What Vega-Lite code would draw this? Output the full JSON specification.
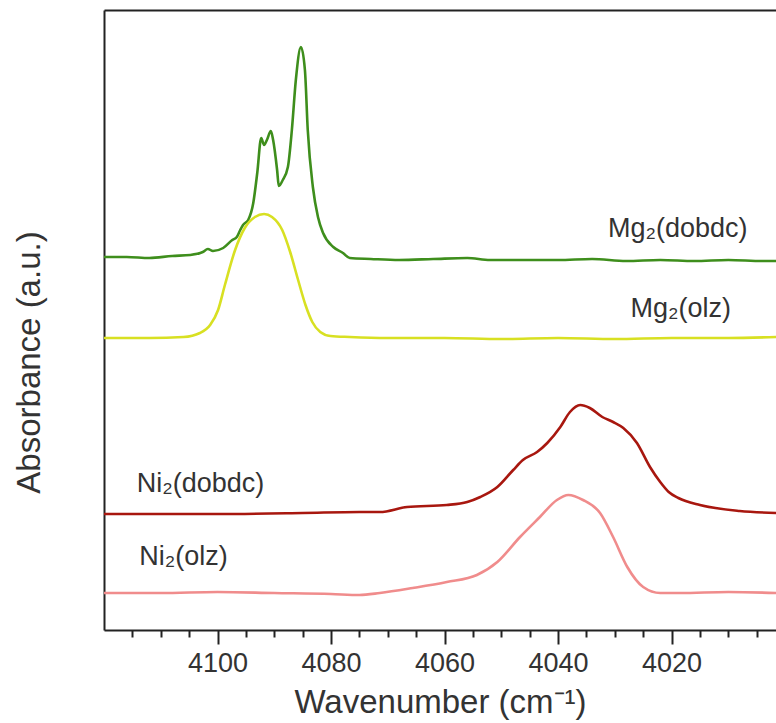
{
  "$schema": "https://vega.github.io/schema/vega-lite/v6.json",
  "width": 672,
  "height": 620,
  "autosize": "none",
  "padding": {"left": 104, "top": 10, "right": 0, "bottom": 93},
  "background": "white",
  "config": {"view": {"stroke": null}, "font": "Liberation Sans"},
  "datasets": {
    "spectra": [
      {"w": 4120, "a": 373, "s": "Mg2(dobdc)"}, {"w": 4116, "a": 373, "s": "Mg2(dobdc)"}, {"w": 4112, "a": 372, "s": "Mg2(dobdc)"}, {"w": 4108, "a": 374, "s": "Mg2(dobdc)"}, {"w": 4104.8, "a": 375, "s": "Mg2(dobdc)"}, {"w": 4102.6, "a": 378, "s": "Mg2(dobdc)"}, {"w": 4101.7, "a": 381, "s": "Mg2(dobdc)"}, {"w": 4100.8, "a": 379, "s": "Mg2(dobdc)"}, {"w": 4099, "a": 382, "s": "Mg2(dobdc)"}, {"w": 4097.4, "a": 390, "s": "Mg2(dobdc)"}, {"w": 4096.6, "a": 393, "s": "Mg2(dobdc)"}, {"w": 4096, "a": 400, "s": "Mg2(dobdc)"}, {"w": 4095.5, "a": 405, "s": "Mg2(dobdc)"}, {"w": 4094.6, "a": 410, "s": "Mg2(dobdc)"}, {"w": 4093.7, "a": 427, "s": "Mg2(dobdc)"}, {"w": 4093, "a": 457, "s": "Mg2(dobdc)"}, {"w": 4092.3, "a": 492, "s": "Mg2(dobdc)"}, {"w": 4091.8, "a": 485, "s": "Mg2(dobdc)"}, {"w": 4091.3, "a": 490, "s": "Mg2(dobdc)"}, {"w": 4090.6, "a": 499, "s": "Mg2(dobdc)"}, {"w": 4090.2, "a": 490, "s": "Mg2(dobdc)"}, {"w": 4089.5, "a": 460, "s": "Mg2(dobdc)"}, {"w": 4089.2, "a": 444, "s": "Mg2(dobdc)"}, {"w": 4088.5, "a": 450, "s": "Mg2(dobdc)"}, {"w": 4087.6, "a": 463, "s": "Mg2(dobdc)"}, {"w": 4086.9, "a": 500, "s": "Mg2(dobdc)"}, {"w": 4086.2, "a": 550, "s": "Mg2(dobdc)"}, {"w": 4085.3, "a": 583, "s": "Mg2(dobdc)"}, {"w": 4084.6, "a": 560, "s": "Mg2(dobdc)"}, {"w": 4084.1, "a": 500, "s": "Mg2(dobdc)"}, {"w": 4083.2, "a": 443, "s": "Mg2(dobdc)"}, {"w": 4082.3, "a": 413, "s": "Mg2(dobdc)"}, {"w": 4081.4, "a": 397, "s": "Mg2(dobdc)"}, {"w": 4079.6, "a": 383, "s": "Mg2(dobdc)"}, {"w": 4077.9, "a": 377, "s": "Mg2(dobdc)"}, {"w": 4076.7, "a": 372, "s": "Mg2(dobdc)"}, {"w": 4073, "a": 371, "s": "Mg2(dobdc)"}, {"w": 4068, "a": 370, "s": "Mg2(dobdc)"}, {"w": 4062, "a": 371, "s": "Mg2(dobdc)"}, {"w": 4056, "a": 372, "s": "Mg2(dobdc)"}, {"w": 4052, "a": 370, "s": "Mg2(dobdc)"}, {"w": 4046, "a": 370, "s": "Mg2(dobdc)"}, {"w": 4040, "a": 370, "s": "Mg2(dobdc)"}, {"w": 4034, "a": 371, "s": "Mg2(dobdc)"}, {"w": 4028, "a": 369, "s": "Mg2(dobdc)"}, {"w": 4022, "a": 370, "s": "Mg2(dobdc)"}, {"w": 4016, "a": 369, "s": "Mg2(dobdc)"}, {"w": 4010, "a": 370, "s": "Mg2(dobdc)"}, {"w": 4004, "a": 369, "s": "Mg2(dobdc)"}, {"w": 4001.6, "a": 369, "s": "Mg2(dobdc)"},

      {"w": 4120, "a": 292, "s": "Mg2(olz)"}, {"w": 4112, "a": 292, "s": "Mg2(olz)"}, {"w": 4106, "a": 293, "s": "Mg2(olz)"}, {"w": 4103.1, "a": 297, "s": "Mg2(olz)"}, {"w": 4101.3, "a": 305, "s": "Mg2(olz)"}, {"w": 4099.9, "a": 320, "s": "Mg2(olz)"}, {"w": 4098.7, "a": 345, "s": "Mg2(olz)"}, {"w": 4096.9, "a": 380, "s": "Mg2(olz)"}, {"w": 4095.2, "a": 402, "s": "Mg2(olz)"}, {"w": 4093.4, "a": 413, "s": "Mg2(olz)"}, {"w": 4091.8, "a": 416, "s": "Mg2(olz)"}, {"w": 4090.4, "a": 413, "s": "Mg2(olz)"}, {"w": 4088.6, "a": 400, "s": "Mg2(olz)"}, {"w": 4087.2, "a": 378, "s": "Mg2(olz)"}, {"w": 4085.8, "a": 350, "s": "Mg2(olz)"}, {"w": 4084.5, "a": 325, "s": "Mg2(olz)"}, {"w": 4083.3, "a": 308, "s": "Mg2(olz)"}, {"w": 4081.9, "a": 298, "s": "Mg2(olz)"}, {"w": 4080.1, "a": 294, "s": "Mg2(olz)"}, {"w": 4076.7, "a": 293, "s": "Mg2(olz)"}, {"w": 4070, "a": 292, "s": "Mg2(olz)"}, {"w": 4060, "a": 292, "s": "Mg2(olz)"}, {"w": 4050, "a": 291, "s": "Mg2(olz)"}, {"w": 4040, "a": 292, "s": "Mg2(olz)"}, {"w": 4030, "a": 291, "s": "Mg2(olz)"}, {"w": 4020, "a": 292, "s": "Mg2(olz)"}, {"w": 4010, "a": 292, "s": "Mg2(olz)"}, {"w": 4001.6, "a": 293, "s": "Mg2(olz)"},

      {"w": 4120, "a": 116, "s": "Ni2(dobdc)"}, {"w": 4100, "a": 116, "s": "Ni2(dobdc)"}, {"w": 4085, "a": 117, "s": "Ni2(dobdc)"}, {"w": 4075, "a": 118, "s": "Ni2(dobdc)"}, {"w": 4071.4, "a": 118, "s": "Ni2(dobdc)"}, {"w": 4066.6, "a": 123, "s": "Ni2(dobdc)"}, {"w": 4059.6, "a": 125, "s": "Ni2(dobdc)"}, {"w": 4056, "a": 128, "s": "Ni2(dobdc)"}, {"w": 4053.7, "a": 133, "s": "Ni2(dobdc)"}, {"w": 4050.7, "a": 143, "s": "Ni2(dobdc)"}, {"w": 4047.9, "a": 160, "s": "Ni2(dobdc)"}, {"w": 4046.2, "a": 170, "s": "Ni2(dobdc)"}, {"w": 4043.7, "a": 178, "s": "Ni2(dobdc)"}, {"w": 4041.9, "a": 187, "s": "Ni2(dobdc)"}, {"w": 4039.6, "a": 203, "s": "Ni2(dobdc)"}, {"w": 4037.9, "a": 218, "s": "Ni2(dobdc)"}, {"w": 4036.1, "a": 225, "s": "Ni2(dobdc)"}, {"w": 4034.4, "a": 222, "s": "Ni2(dobdc)"}, {"w": 4032.2, "a": 213, "s": "Ni2(dobdc)"}, {"w": 4030.3, "a": 208, "s": "Ni2(dobdc)"}, {"w": 4028.5, "a": 202, "s": "Ni2(dobdc)"}, {"w": 4026.1, "a": 187, "s": "Ni2(dobdc)"}, {"w": 4023.8, "a": 163, "s": "Ni2(dobdc)"}, {"w": 4022, "a": 148, "s": "Ni2(dobdc)"}, {"w": 4020.5, "a": 138, "s": "Ni2(dobdc)"}, {"w": 4018.8, "a": 132, "s": "Ni2(dobdc)"}, {"w": 4015, "a": 125, "s": "Ni2(dobdc)"}, {"w": 4008, "a": 119, "s": "Ni2(dobdc)"}, {"w": 4001.6, "a": 117, "s": "Ni2(dobdc)"},

      {"w": 4120, "a": 37, "s": "Ni2(olz)"}, {"w": 4110, "a": 37, "s": "Ni2(olz)"}, {"w": 4100, "a": 38, "s": "Ni2(olz)"}, {"w": 4090, "a": 37, "s": "Ni2(olz)"}, {"w": 4080, "a": 36, "s": "Ni2(olz)"}, {"w": 4075, "a": 35, "s": "Ni2(olz)"}, {"w": 4071.4, "a": 37, "s": "Ni2(olz)"}, {"w": 4065.6, "a": 42, "s": "Ni2(olz)"}, {"w": 4059.6, "a": 48, "s": "Ni2(olz)"}, {"w": 4054.3, "a": 55, "s": "Ni2(olz)"}, {"w": 4050.7, "a": 68, "s": "Ni2(olz)"}, {"w": 4046.7, "a": 93, "s": "Ni2(olz)"}, {"w": 4043.2, "a": 113, "s": "Ni2(olz)"}, {"w": 4040.2, "a": 130, "s": "Ni2(olz)"}, {"w": 4038.2, "a": 135, "s": "Ni2(olz)"}, {"w": 4035.6, "a": 130, "s": "Ni2(olz)"}, {"w": 4032.6, "a": 117, "s": "Ni2(olz)"}, {"w": 4030.3, "a": 93, "s": "Ni2(olz)"}, {"w": 4027.8, "a": 63, "s": "Ni2(olz)"}, {"w": 4025, "a": 43, "s": "Ni2(olz)"}, {"w": 4022, "a": 37, "s": "Ni2(olz)"}, {"w": 4018.5, "a": 37, "s": "Ni2(olz)"}, {"w": 4010, "a": 38, "s": "Ni2(olz)"}, {"w": 4001.6, "a": 37, "s": "Ni2(olz)"}
    ],
    "labels": [
      {"w": 4018.9, "a": 393, "label": "Mg₂(dobdc)"},
      {"w": 4018.4, "a": 313, "label": "Mg₂(olz)"},
      {"w": 4103.0, "a": 138, "label": "Ni₂(dobdc)"},
      {"w": 4106.0, "a": 65, "label": "Ni₂(olz)"}
    ]
  },
  "layer": [
    {
      "data": {"name": "spectra"},
      "mark": {"type": "line", "strokeWidth": 2.6, "clip": true, "interpolate": "monotone"},
      "encoding": {
        "x": {
          "field": "w", "type": "quantitative",
          "scale": {"domain": [4001.6, 4120], "reverse": true, "nice": false, "zero": false},
          "axis": {
            "orient": "bottom",
            "title": "Wavenumber (cm⁻¹)",
            "values": [4115, 4110, 4105, 4100, 4095, 4090, 4085, 4080, 4075, 4070, 4065, 4060, 4055, 4050, 4045, 4040, 4035, 4030, 4025, 4020, 4015, 4010, 4005],
            "format": "d",
            "labelExpr": "datum.value % 20 === 0 ? datum.label : ''",
            "tickSize": {"condition": {"test": "datum.value % 20 === 0", "value": 14}, "value": 7},
            "tickWidth": 2,
            "tickColor": "#222",
            "domainWidth": 2,
            "domainColor": "#222",
            "labelFontSize": 27,
            "labelColor": "#333",
            "labelPadding": 6,
            "labelFlush": false,
            "labelOverlap": false,
            "titleFontSize": 33,
            "titleFontWeight": "normal",
            "titleColor": "#333",
            "titlePadding": 10,
            "grid": false
          }
        },
        "y": {
          "field": "a", "type": "quantitative",
          "scale": {"domain": [0, 620], "nice": false, "zero": false},
          "axis": {
            "title": "Absorbance (a.u.)",
            "ticks": false, "labels": false, "grid": false,
            "domainWidth": 2, "domainColor": "#222",
            "titleFontSize": 33, "titleFontWeight": "normal", "titleColor": "#333",
            "titlePadding": 58, "titleY": 352
          }
        },
        "color": {
          "field": "s", "type": "nominal",
          "scale": {"domain": ["Mg2(dobdc)", "Mg2(olz)", "Ni2(dobdc)", "Ni2(olz)"], "range": ["#3e8e1c", "#d8e022", "#a8170f", "#f08c8c"]},
          "legend": null
        }
      }
    },
    {
      "data": {"name": "labels"},
      "mark": {"type": "text", "fontSize": 27, "align": "center", "baseline": "alphabetic", "color": "#333"},
      "encoding": {
        "x": {
          "field": "w", "type": "quantitative",
          "axis": {"orient": "top", "ticks": false, "labels": false, "title": null, "grid": false, "domainWidth": 2, "domainColor": "#222"}
        },
        "y": {
          "field": "a", "type": "quantitative",
          "axis": {
            "title": "Absorbance (a.u.)",
            "ticks": false, "labels": false, "grid": false,
            "domainWidth": 2, "domainColor": "#222",
            "titleFontSize": 33, "titleFontWeight": "normal", "titleColor": "#333",
            "titlePadding": 58, "titleY": 352
          }
        },
        "text": {"field": "label"}
      }
    }
  ],
  "resolve": {"axis": {"x": "independent"}}
}
